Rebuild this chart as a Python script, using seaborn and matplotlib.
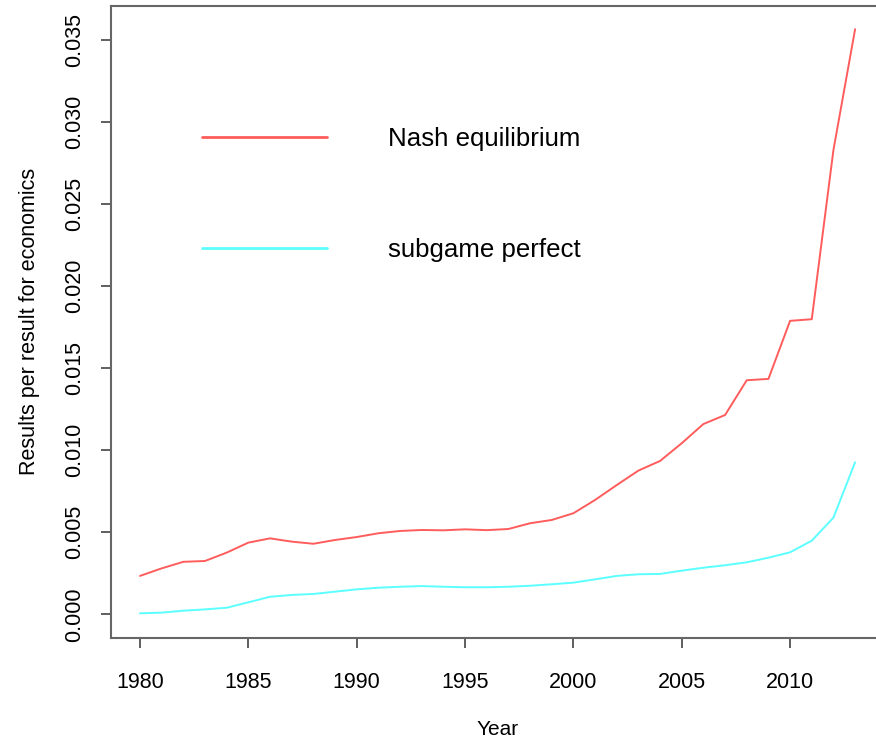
"""
Share of economics search results mentioning game-theory terms, by year.
"""

import numpy as np
import pandas as pd
import matplotlib
matplotlib.use("Agg")
import matplotlib.pyplot as plt
import seaborn as sns

years = list(range(1980, 2014))

nash = [0.00234, 0.00280, 0.00320, 0.00325, 0.00376, 0.00437, 0.00463, 0.00443,
        0.00430, 0.00453, 0.00471, 0.00494, 0.00508, 0.00514, 0.00512, 0.00518,
        0.00513, 0.00520, 0.00555, 0.00575, 0.00616, 0.00697, 0.00788, 0.00876,
        0.00935, 0.01043, 0.01160, 0.01215, 0.01427, 0.01435, 0.01789, 0.01799,
        0.02830, 0.03567]

subgame = [0.00006, 0.00010, 0.00022, 0.00030, 0.00040, 0.00073, 0.00107, 0.00118,
           0.00124, 0.00138, 0.00152, 0.00162, 0.00168, 0.00172, 0.00168, 0.00165,
           0.00165, 0.00168, 0.00174, 0.00183, 0.00193, 0.00213, 0.00234, 0.00244,
           0.00246, 0.00266, 0.00284, 0.00299, 0.00317, 0.00345, 0.00378, 0.00449,
           0.00589, 0.00927]

series_names = ["Nash equilibrium", "subgame perfect"]
series_colors = ["#ff5c5c", "#5cffff"]

x_ticks = list(range(1980, 2011, 5))
y_ticks = [0.000, 0.005, 0.010, 0.015, 0.020, 0.025, 0.030, 0.035]

df = pd.concat([
    pd.DataFrame({"Year": years, "value": nash, "term": series_names[0]}),
    pd.DataFrame({"Year": years, "value": subgame, "term": series_names[1]}),
])

sns.set_style("ticks")
plt.rcParams["font.family"] = ["Liberation Sans", "DejaVu Sans"]

fig = plt.figure(figsize=(8.76, 7.40), dpi=100)
# right edge of the R plot box falls outside the cropped image
ax = fig.add_axes([111.4 / 876, 1 - 637.7 / 740, (883.7 - 111.4) / 876, (637.7 - 5.8) / 740])

sns.lineplot(data=df, x="Year", y="value", hue="term", hue_order=series_names,
             palette=series_colors, linewidth=1.4, ax=ax)

xr = years[-1] - years[0]
ax.set_xlim(years[0] - 0.04 * xr, years[-1] + 0.04 * xr)
ymax = max(nash)
ax.set_ylim(-0.04 * ymax, ymax * 1.04)

ax.set_xticks(x_ticks)
ax.set_xticklabels([str(t) for t in x_ticks], fontsize=15.5)
ax.set_yticks(y_ticks)
ax.set_yticklabels([f"{t:.3f}" for t in y_ticks], fontsize=15.5, rotation=90, va="center")
ax.tick_params(axis="both", length=7, width=1.2, color="#444444", pad=12, labelcolor="#000000")
ax.tick_params(axis="x", pad=18)

ax.set_xlabel("Year", fontsize=15, labelpad=19, color="#000000")
ax.set_ylabel("Results per result for economics", fontsize=15.5, labelpad=17, color="#000000")

for side in ["left", "bottom", "top", "right"]:
    ax.spines[side].set_color("#666666")
    ax.spines[side].set_linewidth(1.5)

sns.move_legend(ax, "upper left", bbox_to_anchor=(202 / 876, 1 - 127 / 740),
                bbox_transform=fig.transFigure, frameon=False, title=None,
                fontsize=18.6, handlelength=4.85, handletextpad=2.35,
                labelspacing=3.35, borderpad=0, borderaxespad=0)
for line in ax.get_legend().get_lines():
    line.set_linewidth(2.0)
for text in ax.get_legend().get_texts():
    text.set_color("#000000")

fig.savefig("out.png", dpi=100)
plt.close(fig)
